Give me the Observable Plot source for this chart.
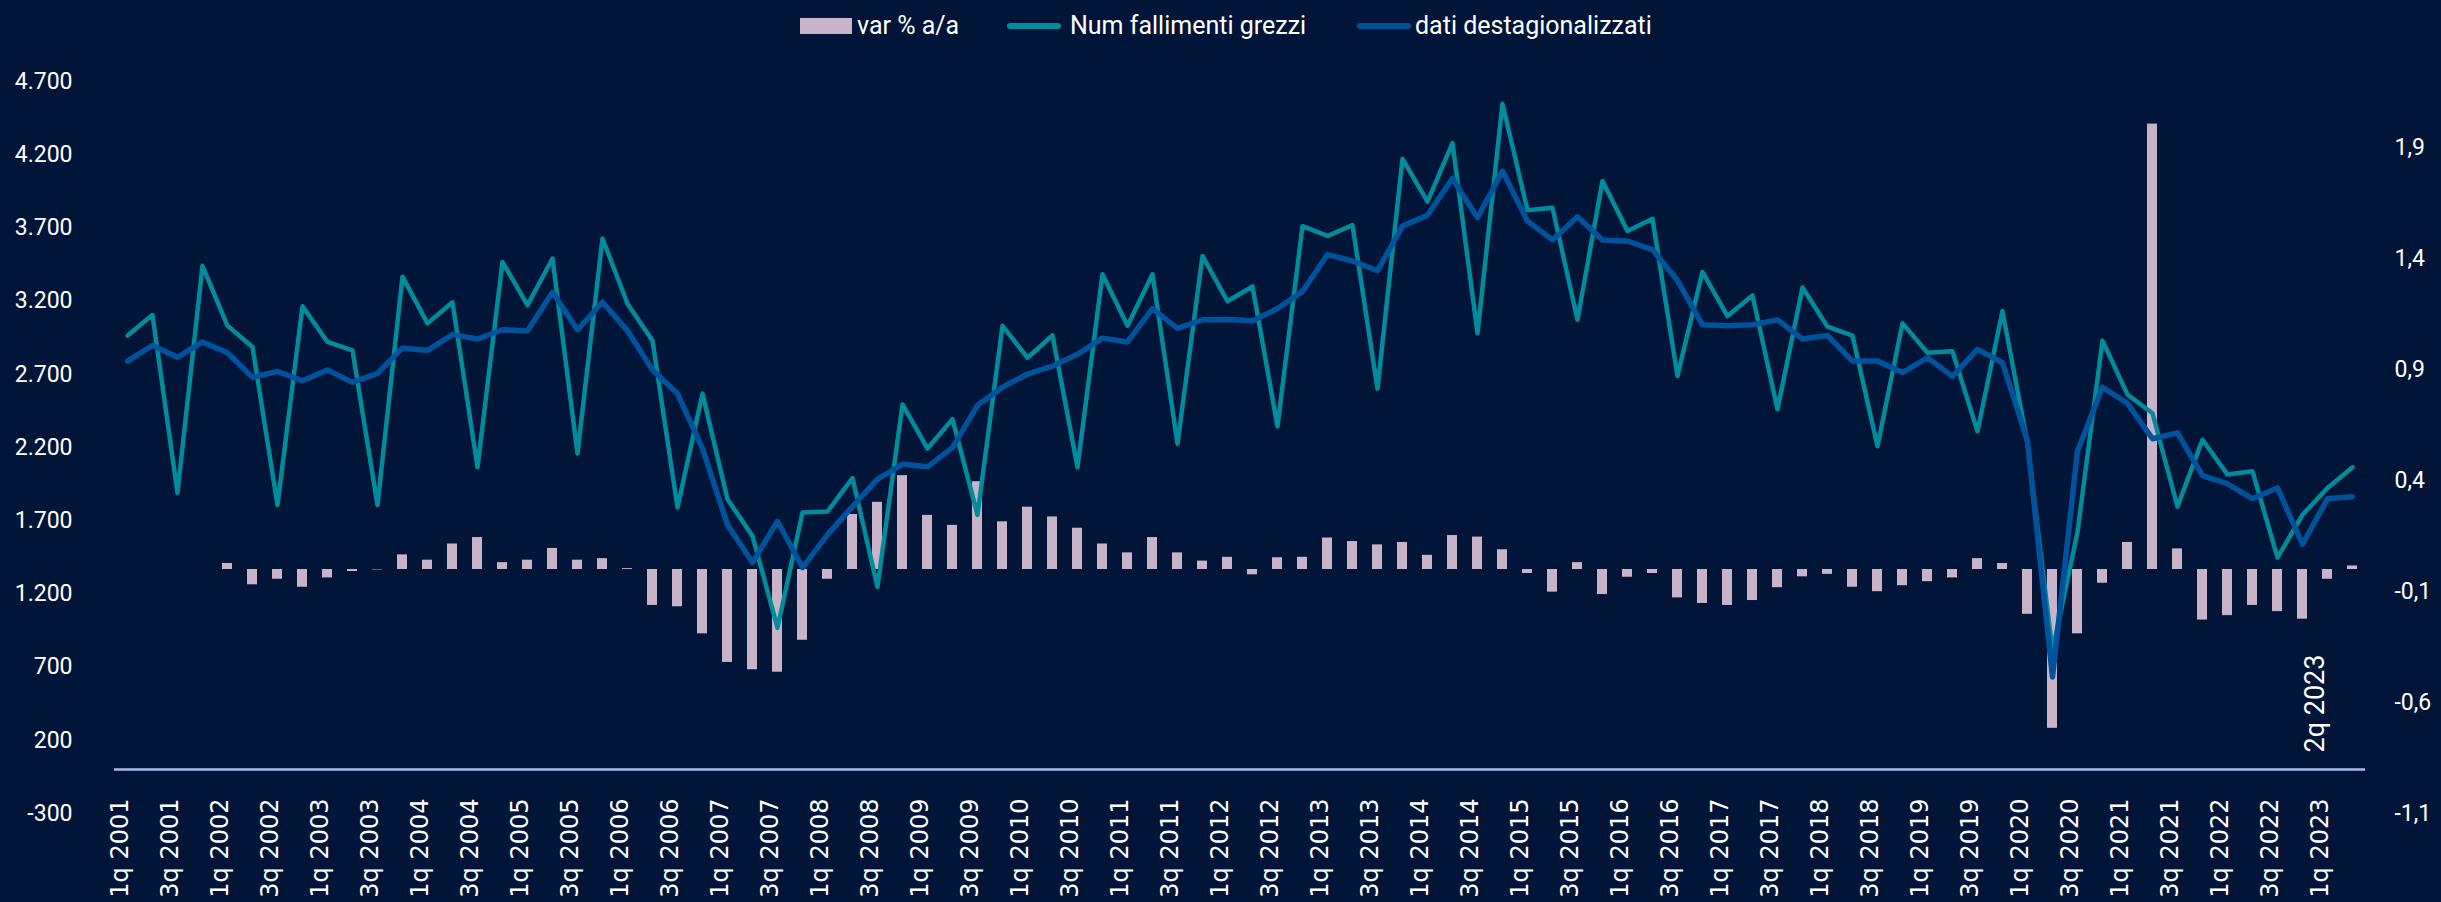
<!DOCTYPE html>
<html>
<head>
<meta charset="utf-8">
<script src="https://cdn.jsdelivr.net/npm/d3@7"></script>
<script src="https://cdn.jsdelivr.net/npm/@observablehq/plot@0.6"></script>
<style>
  html, body { margin: 0; padding: 0; background: #001538; overflow: hidden; }
  #wrap { position: relative; width: 2441px; height: 902px; }
  #legend { position: absolute; left: 0; top: 0; width: 2441px; height: 60px; font-family: Roboto, sans-serif; font-size: 25px; color: #ffffff; }
  #legend .sw, #legend .tx { position: absolute; }
  #legend .tx { line-height: 30px; top: 11px; white-space: nowrap; }
</style>
</head>
<body>
<div id="wrap">
  <div id="chart"></div>
  <div id="legend"></div>
</div>
<script>
// Categories: quarters 1q 2001 .. 2q 2023
const quarters = [];
for (let y = 2001; y <= 2023; y++) for (let q = 1; q <= 4; q++) if (!(y === 2023 && q > 2)) quarters.push(`${q}q ${y}`);

// Num fallimenti grezzi (left axis)
const rawCounts = [
  2965, 3105, 1891, 3441, 3031, 2887, 1807, 3165, 2921, 2863,
  1807, 3367, 3048, 3192, 2065, 3467, 3172, 3491, 2159, 3628,
  3182, 2930, 1790, 2568, 1847, 1596, 968, 1756, 1763, 1991,
  1247, 2494, 2193, 2394, 1740, 3031, 2813, 2965, 2065, 3383,
  3031, 3383, 2226, 3508, 3199, 3300, 2344, 3712, 3645, 3719,
  2602, 4172, 3880, 4279, 2981, 4548, 3820, 3837, 3072, 4021,
  3679, 3762, 2689, 3400, 3098, 3239, 2461, 3293, 3025, 2965,
  2209, 3048, 2847, 2857, 2310, 3132, 2226, 810, 1622, 2930,
  2561, 2434, 1796, 2253, 2015, 2038, 1448, 1740, 1924, 2065
];

// dati destagionalizzati (left axis)
const seasAdj = [
  2790, 2897, 2816, 2921, 2847, 2679, 2719, 2656, 2729, 2645,
  2706, 2880, 2863, 2971, 2941, 3004, 2998, 3260, 3004, 3192,
  2998, 2729, 2568, 2193, 1673, 1414, 1696, 1380, 1605, 1796,
  1984, 2085, 2068, 2199, 2488, 2612, 2702, 2756, 2837, 2947,
  2921, 3149, 3014, 3072, 3075, 3065, 3149, 3266, 3518, 3474,
  3407, 3712, 3786, 4038, 3769, 4088, 3746, 3618, 3776, 3618,
  3609, 3551, 3340, 3038, 3031, 3038, 3072, 2941, 2965, 2790,
  2790, 2712, 2813, 2686, 2870, 2779, 2243, 633, 2176, 2612,
  2501, 2260, 2300, 2008, 1951, 1850, 1924, 1538, 1850, 1864
];

// var % a/a (right axis, as fraction)
const varYoY = [
  null, null, null, null, 0.027, -0.069, -0.044, -0.080, -0.038, -0.009,
  -0.002, 0.066, 0.042, 0.115, 0.144, 0.031, 0.042, 0.095, 0.042, 0.049,
  0.004, -0.162, -0.168, -0.290, -0.419, -0.452, -0.463, -0.319, -0.044, 0.248,
  0.303, 0.423, 0.244, 0.199, 0.396, 0.215, 0.281, 0.237, 0.186, 0.115,
  0.075, 0.144, 0.075, 0.038, 0.055, -0.024, 0.053, 0.055, 0.142, 0.126,
  0.111, 0.122, 0.064, 0.153, 0.146, 0.089, -0.018, -0.102, 0.031, -0.113,
  -0.035, -0.018, -0.128, -0.153, -0.162, -0.140, -0.082, -0.033, -0.022, -0.080,
  -0.100, -0.073, -0.055, -0.038, 0.049, 0.027, -0.202, -0.716, -0.290, -0.062,
  0.122, 2.008, 0.093, -0.228, -0.208, -0.162, -0.190, -0.224, -0.044, 0.016
];

// Tick labels
const leftTicks = [-300, 200, 700, 1200, 1700, 2200, 2700, 3200, 3700, 4200, 4700];
const rightTicks = [-1.1, -0.6, -0.1, 0.4, 0.9, 1.4, 1.9];
const xTickLabels = quarters.filter((d, i) => i % 2 === 0);
const annotation = [{q: "1q 2023", label: "2q 2023"}];
const legendItems = ["var % a/a", "Num fallimenti grezzi", "dati destagionalizzati"];

// Axis domains
const leftDomain = [-300, 4700];
const rightDomain = [-1.1, 2.2];
const toLeft = v => leftDomain[0] + (v - rightDomain[0]) / (rightDomain[1] - rightDomain[0]) * (leftDomain[1] - leftDomain[0]);

const itLocale = d3.formatLocale({decimal: ",", thousands: ".", grouping: [3], currency: ["", " €"], minus: "-"});
const fmtLeft = itLocale.format(",.0f");
const fmtRight = itLocale.format(".1f");

const data = quarters.map((q, i) => ({q, raw: rawCounts[i], sa: seasAdj[i], v: varYoY[i]}));

const BG = "#001538";
const TEAL = "#008C9A";
const BLUE = "#00529C";
const BAR = "#C9B3C9";

const chart = Plot.plot({
  width: 2441,
  height: 902,
  marginTop: 81,
  marginBottom: 89,
  marginLeft: 114,
  marginRight: 76,
  style: {background: BG, color: "#ffffff", fontFamily: "Roboto, sans-serif"},
  x: {type: "band", domain: quarters, paddingInner: 0.6, paddingOuter: 0.3, axis: null},
  y: {domain: leftDomain, axis: null},
  marks: [
    Plot.barY(data.filter(d => d.v != null), {x: "q", y1: () => toLeft(0), y2: d => toLeft(d.v), fill: BAR}),
    Plot.ruleY([0], {stroke: "#A9BEE6", strokeWidth: 2.5}),
    Plot.line(data, {x: "q", y: "raw", stroke: TEAL, strokeWidth: 4.5, strokeLinejoin: "round"}),
    Plot.line(data, {x: "q", y: "sa", stroke: BLUE, strokeWidth: 5.5, strokeLinejoin: "round"}),
    Plot.text(leftTicks, {y: d => d, text: d => fmtLeft(d), frameAnchor: "left", textAnchor: "end", dx: -42, fontSize: 23, fontFamily: "Roboto", fill: "#ffffff"}),
    Plot.text(rightTicks, {y: d => toLeft(d), text: d => fmtRight(d), frameAnchor: "right", textAnchor: "start", dx: 29, fontSize: 23, fontFamily: "Roboto", fill: "#ffffff"}),
    Plot.text(xTickLabels, {x: d => d, text: d => d, frameAnchor: "bottom", rotate: -90, textAnchor: "end", dy: -15, fontSize: 24, fontFamily: "DejaVu Sans", fill: "#ffffff"}),
    Plot.text(annotation, {x: "q", text: "label", frameAnchor: "bottom", rotate: -90, textAnchor: "start", dy: -61, dx: -4, fontSize: 27, fontFamily: "Roboto", fill: "#ffffff"})
  ]
});
document.getElementById("chart").appendChild(chart);

// Legend
const legend = document.getElementById("legend");
const sw = [
  {left: 800, top: 18, width: 52, height: 16, color: BAR, radius: 0, textLeft: 857},
  {left: 1007, top: 23, width: 54, height: 6, color: TEAL, radius: 3, textLeft: 1070},
  {left: 1357, top: 23, width: 54, height: 6, color: BLUE, radius: 3, textLeft: 1415}
];
legendItems.forEach((label, i) => {
  const s = sw[i];
  const box = document.createElement("div");
  box.className = "sw";
  Object.assign(box.style, {left: s.left + "px", top: s.top + "px", width: s.width + "px", height: s.height + "px", background: s.color, borderRadius: s.radius + "px"});
  legend.appendChild(box);
  const t = document.createElement("div");
  t.className = "tx";
  t.style.left = s.textLeft + "px";
  t.textContent = label;
  legend.appendChild(t);
});
</script>
</body>
</html>
